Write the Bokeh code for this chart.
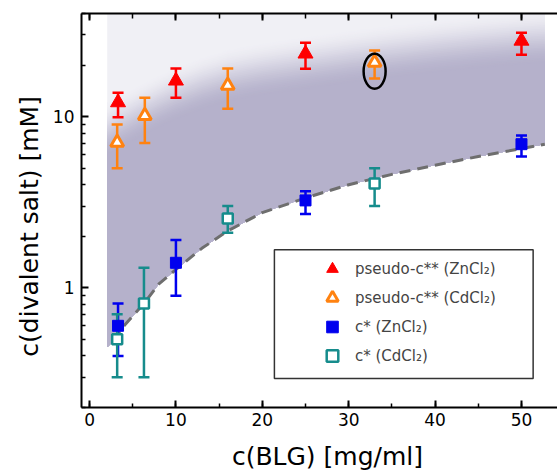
import numpy as np
from bokeh.plotting import figure
from bokeh.models import (Range1d, LinearAxis, SingleIntervalTicker, FixedTicker,
                          Legend, LegendItem, BoxAnnotation, CustomJSTickFormatter)
from bokeh.embed import file_html
from bokeh.resources import INLINE

# ---------------- data ----------------
# pseudo-c** (ZnCl2)
zn_pc_x = [3.3, 10, 25, 50]
zn_pc_y = [12.1, 16.2, 23.3, 27.7]
zn_pc_lo = [9.9, 12.9, 19.0, 23.0]
zn_pc_hi = [13.8, 19.1, 27.0, 30.9]
# pseudo-c** (CdCl2)
cd_pc_x = [3.2, 6.4, 16, 33]
cd_pc_y = [7.05, 10.1, 15.2, 20.7]
cd_pc_lo = [5.0, 7.0, 11.1, 16.7]
cd_pc_hi = [9.0, 12.9, 19.1, 24.3]
# c* (ZnCl2)
zn_c_x = [3.3, 10, 25, 50]
zn_c_y = [0.60, 1.40, 3.24, 6.9]
zn_c_lo = [0.40, 0.90, 2.7, 5.85]
zn_c_hi = [0.81, 1.9, 3.66, 7.75]
# c* (CdCl2)
cd_c_x = [3.2, 6.3, 16, 33]
cd_c_y = [0.50, 0.81, 2.54, 4.07]
cd_c_lo = [0.30, 0.30, 2.1, 3.0]
cd_c_hi = [0.70, 1.31, 3.0, 5.0]

# dashed boundary curve (c*)
curve_x = [2.8, 4, 6.3, 8, 10, 13, 16, 20, 25, 30, 35, 40, 45, 50, 52.7]
curve_y = [0.49, 0.6, 0.81, 1.05, 1.28, 1.7, 2.15, 2.75, 3.35, 4.0, 4.6, 5.2, 5.85, 6.5, 6.9]
# shaded region: left edge point and the soft upper edge of the dark band
shade_left_x = 2.05
shade_left_y = 0.45
shade_top = 40
shade_mid = [8.6, 9.1, 9.8, 11.3, 12.5, 13.9, 15.9, 17.7, 19.3, 21.0, 22.8, 24.5, 26.2, 27.8, 29.2, 29.8]

# highlighted point (ellipse)
hl_x = [33]
hl_y = [18.4]

# axis ticks
x_tick_interval = 10
y_major = [1, 10]
y_minor = [0.2, 0.3, 0.4, 0.5, 0.6, 0.7, 0.8, 0.9, 2, 3, 4, 5, 6, 7, 8, 9, 20, 30, 40]

labels = ["pseudo-c** (ZnCl\u2082)", "pseudo-c** (CdCl\u2082)", "c* (ZnCl\u2082)", "c* (CdCl\u2082)"]

# ---------------- figure ----------------
FONT = "DejaVu Sans"
p = figure(width=557, height=475, x_range=Range1d(-0.93, 54.17), y_range=Range1d(0.2, 40),
           y_axis_type="log", output_backend="svg", toolbar_location=None,
           min_border_left=81, min_border_right=0, min_border_top=13, min_border_bottom=68)
p.outline_line_color = None
p.xgrid.visible = False
p.ygrid.visible = False
p.background_fill_color = "white"
p.border_fill_color = "white"

# shaded region with soft gradient
sx = np.array([shade_left_x] + curve_x)
slo = np.array([shade_left_y] + curve_y)
smid = np.array(shade_mid)
light = np.array([240, 240, 245])
dark = np.array([181, 177, 203])

def hexcol(c):
    c = np.clip(np.round(c), 0, 255).astype(int)
    return "#%02x%02x%02x" % tuple(c)

xs_poly = list(sx) + list(sx[::-1])
p.patch(xs_poly, list(slo) + [shade_top] * len(sx), fill_color=hexcol(light), line_color=None)
N = 32
w = 0.16
for k in range(1, N + 1):
    t = k / N
    top = smid * 10 ** (w * (1 - 2 * t))
    tt = t * t * (3 - 2 * t)
    col = light + (dark - light) * tt
    p.patch(xs_poly, list(slo) + list(top[::-1]), fill_color=hexcol(col), line_color=None)

# dashed curve
p.line(curve_x, curve_y, line_color="#6e6e6e", line_width=3, line_dash="11 7")

# error bars
def errbars(x, lo, hi, color):
    p.segment(x0=x, y0=lo, x1=x, y1=hi, line_color=color, line_width=2.5)
    p.scatter(x, lo, marker="dash", size=11, line_color=color, line_width=2.5)
    p.scatter(x, hi, marker="dash", size=11, line_color=color, line_width=2.5)

RED = "#ff0000"
ORANGE = "#ff8210"
BLUE = "#0000ee"
TEAL = "#168c8c"

errbars(zn_pc_x, zn_pc_lo, zn_pc_hi, RED)
errbars(cd_pc_x, cd_pc_lo, cd_pc_hi, ORANGE)
errbars(zn_c_x, zn_c_lo, zn_c_hi, BLUE)
errbars(cd_c_x, cd_c_lo, cd_c_hi, TEAL)

r1 = p.scatter(zn_pc_x, zn_pc_y, marker="triangle", size=15, fill_color=RED, line_color=RED, line_width=1)
r2 = p.scatter(cd_pc_x, cd_pc_y, marker="triangle", size=13, fill_color="white", line_color=ORANGE, line_width=3)
r3 = p.scatter(zn_c_x, zn_c_y, marker="square", size=11, fill_color=BLUE, line_color=BLUE, line_width=1)
r4 = p.scatter(cd_c_x, cd_c_y, marker="square", size=10, fill_color="white", line_color=TEAL, line_width=2.5)

# highlight ellipse
p.ellipse(x=hl_x, y=hl_y, width=22, height=35, width_units="screen", height_units="screen",
          fill_color=None, line_color="black", line_width=2.5)

# ---------------- axes ----------------
xticker = SingleIntervalTicker(interval=x_tick_interval, num_minor_ticks=2)
xa = p.xaxis[0]
xa.ticker = xticker
ya = p.yaxis[0]
ya.ticker = FixedTicker(ticks=y_major, minor_ticks=y_minor)
ya.formatter = CustomJSTickFormatter(code="return String(tick);")

for ax in (xa, ya):
    ax.axis_line_width = 2
    ax.axis_line_color = "black"
    ax.major_tick_in = 7
    ax.major_tick_out = 0
    ax.minor_tick_in = 4
    ax.minor_tick_out = 0
    ax.major_tick_line_width = 2
    ax.minor_tick_line_width = 1.5
    ax.major_label_text_font = FONT
    ax.major_label_text_font_size = "17px"
    ax.major_label_text_color = "black"
    ax.axis_label_text_font = FONT
    ax.axis_label_text_font_size = "25px"
    ax.axis_label_text_font_style = "normal"
    ax.axis_label_text_color = "black"

xa.major_label_standoff = 5
xa.axis_label = "\u00a0\u00a0c(BLG) [mg/ml]"
xa.axis_label_standoff = 13
ya.major_label_standoff = 7
ya.axis_label = "c(divalent salt) [mM]\u00a0\u00a0\u00a0\u00a0"
ya.axis_label_standoff = 6

top = LinearAxis(ticker=SingleIntervalTicker(interval=x_tick_interval, num_minor_ticks=2))
top.axis_line_width = 2
top.major_tick_in = 7
top.major_tick_out = 0
top.minor_tick_in = 5
top.minor_tick_out = 0
top.major_tick_line_width = 2
top.minor_tick_line_width = 1.5
top.major_label_text_font_size = "1px"
top.major_label_text_color = None
top.major_label_standoff = 0
p.add_layout(top, "above")

# ---------------- legend ----------------
box = BoxAnnotation(left=21.4, right=51.35, bottom=0.295, top=1.67,
                    fill_color="white", fill_alpha=1, line_color="#333333", line_alpha=1,
                    line_width=1.5)
p.add_layout(box)

legend = Legend(items=[LegendItem(label=labels[0], renderers=[r1]),
                       LegendItem(label=labels[1], renderers=[r2]),
                       LegendItem(label=labels[2], renderers=[r3]),
                       LegendItem(label=labels[3], renderers=[r4])],
                location=(236, 37), padding=0, spacing=0, margin=0,
                glyph_width=30, glyph_height=29, label_standoff=8,
                label_text_font=FONT, label_text_font_size="15px",
                border_line_color=None, background_fill_alpha=0)
p.add_layout(legend)

open("out.html", "w").write(file_html(p, INLINE))
